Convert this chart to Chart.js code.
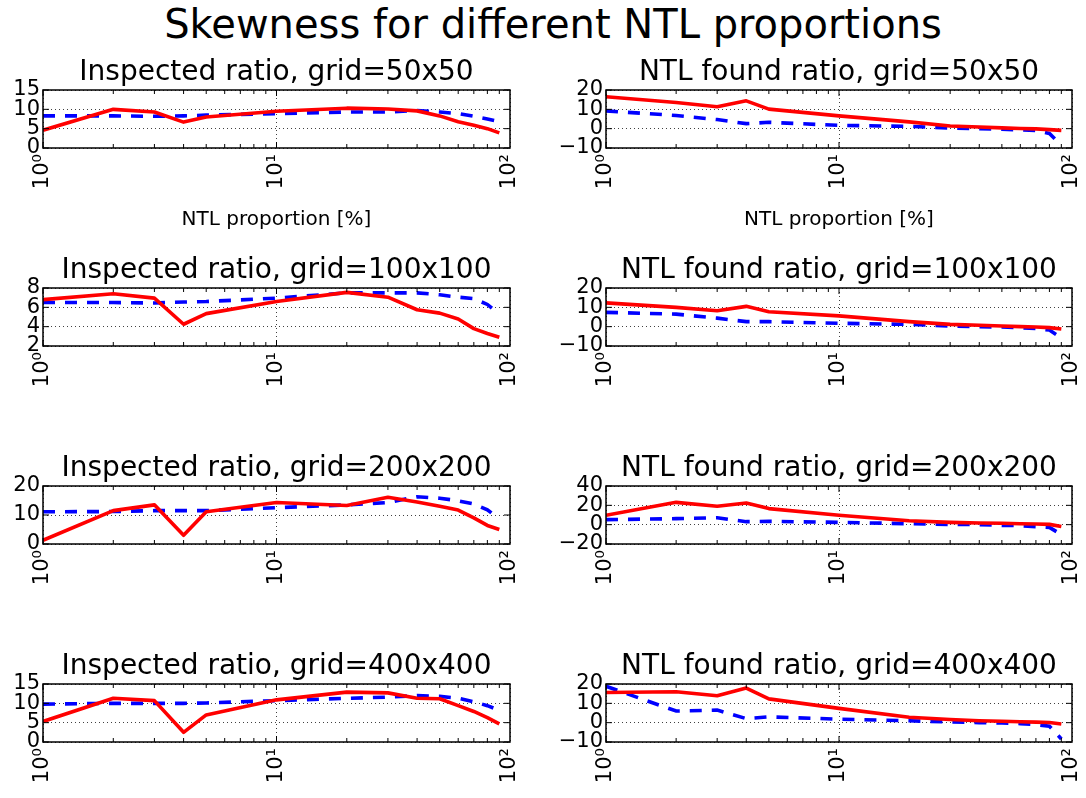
<!DOCTYPE html>
<html>
<head>
<meta charset="utf-8">
<script src="https://cdn.jsdelivr.net/npm/chart.js@4/dist/chart.umd.min.js"></script>
<style>
  body { margin: 0; background: #fff; }
  #fig { position: relative; width: 1086px; height: 798px; overflow: hidden; background: #fff; }
  #suptitle {
    position: absolute; left: 10px; top: 4px; width: 1086px;
    text-align: center; font-family: 'DejaVu Sans', sans-serif;
    font-size: 40px; line-height: 40px; color: #000;
  }
  canvas { position: absolute; }
</style>
</head>
<body>
<div id="fig">
  <div id="suptitle">Skewness for different NTL proportions</div>
</div>
<script>
// x values (NTL proportion in %) shared by every subplot
const ntlProportion = [1, 2, 3, 4, 5, 10, 20, 30, 40, 50, 60, 70, 80, 90];

// log axis labels
const xTickValues = [1, 10, 100];
const xTickLabels = ['10\u2070', '10\u00b9', '10\u00b2'];

// grid 50x50
const inspected50Solid  = [4.6, 10.0, 9.3, 6.7, 8.0, 9.5, 10.3, 10.1, 9.6, 8.3, 6.8, 5.9, 5.0, 3.9];
const inspected50Dashed = [8.3, 8.3, 8.2, 8.3, 8.5, 8.9, 9.3, 9.3, 9.7, 9.3, 8.9, 8.2, 7.5, 6.8];
const found50Solid      = [16.5, 13.5, 11.3, 14.4, 10.1, 6.6, 3.5, 1.4, 0.9, 0.4, 0.1, -0.1, -0.5, -0.9];
const found50Dashed     = [9.2, 6.8, 4.7, 2.6, 3.3, 1.7, 1.2, 0.3, 0.0, -0.3, -0.6, -1.0, -2.5, -8.5];

// grid 100x100
const inspected100Solid  = [6.8, 7.4, 6.95, 4.25, 5.35, 6.6, 7.55, 7.05, 5.75, 5.4, 4.8, 3.8, 3.3, 2.9];
const inspected100Dashed = [6.5, 6.5, 6.45, 6.55, 6.6, 6.95, 7.5, 7.5, 7.5, 7.3, 7.05, 6.9, 6.3, 5.3];
const found100Solid      = [12.3, 10.0, 8.2, 10.5, 7.7, 5.6, 2.6, 1.2, 0.7, 0.35, 0.0, -0.2, -0.5, -1.2];
const found100Dashed     = [7.4, 6.5, 4.4, 2.6, 2.6, 1.75, 1.2, 0.35, 0.0, -0.2, -0.5, -1.0, -1.75, -5.8];

// grid 200x200
const inspected200Solid  = [1.3, 11.5, 13.5, 3.0, 11.1, 14.3, 13.3, 16.1, 14.5, 13.0, 11.7, 9.0, 6.4, 5.0];
const inspected200Dashed = [11.1, 11.2, 11.5, 11.5, 11.5, 12.5, 13.5, 14.3, 16.3, 15.8, 14.9, 13.8, 11.8, 8.6];
const found200Solid      = [9.7, 23.1, 19.0, 22.4, 16.6, 9.7, 4.1, 2.4, 1.7, 1.4, 1.0, 0.7, 0.3, -2.0];
const found200Dashed     = [5.2, 6.2, 7.2, 3.1, 3.4, 2.4, 1.0, 0.3, 0.0, -0.7, -1.0, -2.0, -2.8, -10.3];

// grid 400x400
const inspected400Solid  = [5.3, 11.3, 10.7, 2.5, 7.0, 10.9, 12.9, 12.7, 11.3, 11.2, 9.4, 7.9, 6.3, 4.7];
const inspected400Dashed = [9.8, 10.0, 10.0, 10.0, 10.1, 10.7, 11.3, 11.6, 12.0, 11.8, 11.3, 10.4, 9.4, 8.2];
const found400Solid      = [15.6, 16.0, 13.9, 17.9, 12.3, 7.4, 2.8, 1.6, 1.0, 0.7, 0.5, 0.3, 0.1, -0.7];
const found400Dashed     = [18.8, 6.0, 6.5, 2.1, 3.0, 1.8, 1.0, 0.35, 0.0, -0.2, -0.5, -1.0, -1.8, -8.4];

// y ranges: [min, max, step]
const inspected50Y  = [0, 15, 5];
const inspected100Y = [2, 8, 2];
const inspected200Y = [0, 20, 10];
const inspected400Y = [0, 15, 5];
const found50Y  = [-10, 20, 10];
const found100Y = [-10, 20, 10];
const found200Y = [-20, 40, 20];
const found400Y = [-10, 20, 10];

const FONT = "'DejaVu Sans', sans-serif";
const rowTops = [90, 288, 486, 684];
const PLOT_H = 58;

// draws the axes box plus inward tick marks (major and minor) like matplotlib
const frameTicks = {
  id: 'frameTicks',
  afterDatasetsDraw(chart) {
    const { ctx, chartArea: a, scales: { x, y } } = chart;
    ctx.save();
    ctx.strokeStyle = '#000';
    ctx.lineWidth = 1;
    ctx.beginPath();
    for (let d = 1; d < 100; d *= 10) {
      for (let m = 1; m <= 9; m++) {
        const px = x.getPixelForValue(d * m);
        const len = m === 1 ? 6 : 4;
        ctx.moveTo(px, a.bottom); ctx.lineTo(px, a.bottom - len);
        ctx.moveTo(px, a.top); ctx.lineTo(px, a.top + len);
      }
    }
    y.ticks.forEach(t => {
      const py = y.getPixelForValue(t.value);
      ctx.moveTo(a.left, py); ctx.lineTo(a.left + 6, py);
      ctx.moveTo(a.right, py); ctx.lineTo(a.right - 6, py);
    });
    ctx.stroke();
    ctx.lineWidth = 1.5;
    ctx.strokeRect(a.left, a.top, a.right - a.left, a.bottom - a.top);
    ctx.restore();
  }
};

function toPoints(ys) {
  return ntlProportion.map((x, i) => ({ x: x, y: ys[i] }));
}

function addPanel(col, row, title, solid, dashed, yRange, withXLabel) {
  const left = col === 0 ? 0 : 540;
  const width = col === 0 ? 540 : 546;
  const axisW = col === 0 ? 43 : 66;
  const padRight = col === 0 ? 30 : 14;
  const xAxisH = withXLabel ? 86 : 55;
  const top = rowTops[row] - 60;
  const height = 60 + PLOT_H + xAxisH;

  const canvas = document.createElement('canvas');
  canvas.width = width;
  canvas.height = height;
  canvas.style.left = left + 'px';
  canvas.style.top = top + 'px';
  document.getElementById('fig').appendChild(canvas);

  new Chart(canvas, {
    type: 'line',
    data: {
      datasets: [
        {
          data: toPoints(solid),
          borderColor: '#ff0000',
          borderWidth: 3.6,
          borderJoinStyle: 'round',
          pointRadius: 0,
          fill: false
        },
        {
          data: toPoints(dashed),
          borderColor: '#0000ff',
          borderWidth: 3.6,
          borderDash: [12, 10],
          pointRadius: 0,
          fill: false
        }
      ]
    },
    options: {
      responsive: false,
      animation: false,
      devicePixelRatio: 1,
      layout: { padding: { left: 0, right: padRight, top: 0, bottom: 0 } },
      plugins: {
        legend: { display: false },
        tooltip: { enabled: false },
        title: {
          display: true,
          text: title,
          color: '#000',
          fullSize: false,
          font: { family: FONT, size: 28, weight: 'normal', lineHeight: 1 },
          padding: { top: 29, bottom: 3 }
        }
      },
      scales: {
        x: {
          type: 'logarithmic',
          min: 1,
          max: 100,
          afterBuildTicks: s => { s.ticks = xTickValues.map(v => ({ value: v })); },
          afterFit: s => {
            // fixed axis height, and no extra room for the end labels
            s.height = xAxisH;
            s.paddingLeft = 0;
            s.paddingRight = 0;
          },
          ticks: {
            callback: (v, i) => xTickLabels[i],
            minRotation: 90,
            maxRotation: 90,
            autoSkip: false,
            padding: 6,
            color: '#000',
            font: { family: FONT, size: 21 }
          },
          grid: { color: 'rgba(0,0,0,0.75)', lineWidth: 1, drawTicks: false },
          border: { display: false, dash: [1, 3] },
          title: {
            display: withXLabel,
            text: 'NTL proportion [%]',
            color: '#000',
            font: { family: FONT, size: 20, lineHeight: 1 },
            padding: { top: 0, bottom: 4 }
          }
        },
        y: {
          min: yRange[0],
          max: yRange[1],
          afterFit: s => {
            s.width = axisW;
            s.paddingTop = 0;
            s.paddingBottom = 0;
          },
          ticks: {
            stepSize: yRange[2],
            autoSkip: false,
            padding: 3,
            color: '#000',
            font: { family: FONT, size: 21, lineHeight: 1 },
            callback: v => (v < 0 ? '\u2212' + Math.abs(v) : String(v))
          },
          grid: { color: 'rgba(0,0,0,0.75)', lineWidth: 1, drawTicks: false },
          border: { display: false, dash: [1, 3] }
        }
      }
    },
    plugins: [frameTicks]
  });
}

addPanel(0, 0, 'Inspected ratio, grid=50x50', inspected50Solid, inspected50Dashed, inspected50Y, true);
addPanel(1, 0, 'NTL found ratio, grid=50x50', found50Solid, found50Dashed, found50Y, true);
addPanel(0, 1, 'Inspected ratio, grid=100x100', inspected100Solid, inspected100Dashed, inspected100Y, false);
addPanel(1, 1, 'NTL found ratio, grid=100x100', found100Solid, found100Dashed, found100Y, false);
addPanel(0, 2, 'Inspected ratio, grid=200x200', inspected200Solid, inspected200Dashed, inspected200Y, false);
addPanel(1, 2, 'NTL found ratio, grid=200x200', found200Solid, found200Dashed, found200Y, false);
addPanel(0, 3, 'Inspected ratio, grid=400x400', inspected400Solid, inspected400Dashed, inspected400Y, false);
addPanel(1, 3, 'NTL found ratio, grid=400x400', found400Solid, found400Dashed, found400Y, false);
</script>
</body>
</html>
